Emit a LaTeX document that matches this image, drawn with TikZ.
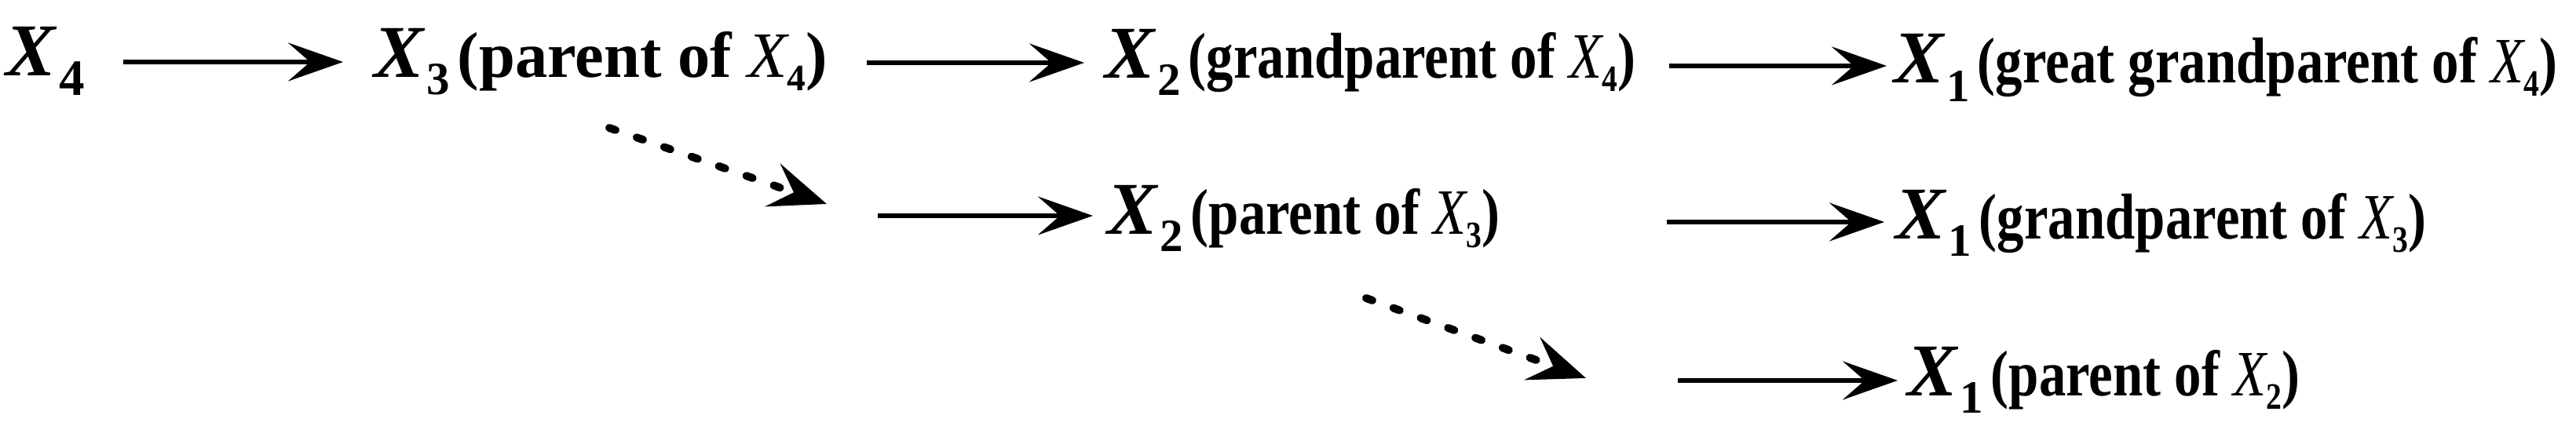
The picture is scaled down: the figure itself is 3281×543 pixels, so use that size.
\documentclass[tikz,border=0pt]{standalone}
\usepackage{fontspec}
\usepackage{graphicx}
\setmainfont{Liberation Serif}
\usetikzlibrary{arrows.meta,calc}
\newcommand\mainX[3][11.8]{{\fontsize{19}{19}\selectfont\bfseries\itshape X}\kern0.8pt\raisebox{-#3}{\fontsize{#1}{#1}\selectfont\bfseries #2}}
\newcommand\labX[1]{{\mdseries\itshape X}\raisebox{-3.4pt}{\fontsize{9.5}{9.5}\selectfont\bfseries #1}}
\newcommand\labtext[1]{{\fontsize{16.5}{16.5}\selectfont\bfseries #1}}
\newcommand\cond[1]{\scalebox{0.835}[1]{#1}}
\tikzset{
  lbl/.style={anchor=base west, inner sep=0pt, outer sep=0pt},
  arr/.style={line width=1.2pt, -{Stealth[length=14pt,width=9.8pt,inset=5.6pt]}},
  darr/.style={line width=2pt, line cap=round, dash pattern=on 1.7pt off 5.7pt,
    -{Stealth[length=14.5pt,width=11.5pt,inset=5.6pt]}}
}
\begin{document}
\begin{tikzpicture}[x=0.2pt,y=-0.2pt]
\fill[white] (0,0) rectangle (3281,543);
\useasboundingbox (0,0) rectangle (3281,543);
% row 1
\node[lbl] (x4)  at (8,97)     {\mainX[13]{4}{5pt}};
\node[lbl] (x3a) at (476,99)   {\mainX{3}{4.4pt}\kern2pt\labtext{(parent of \labX{4})}};
\node[lbl] (x2a) at (1407,100) {\mainX{2}{4.4pt}\kern2pt\cond{\labtext{(grandparent of \labX{4})}}};
\node[lbl] (x1a) at (2412,106) {\mainX{1}{4.8pt}\kern2pt\cond{\labtext{(great grandparent of \labX{4})}}};
% row 2
\node[lbl] (x2b) at (1410,299) {\mainX{2}{4.4pt}\kern2pt\cond{\labtext{(parent of \labX{3})}}};
\node[lbl] (x1b) at (2414,305) {\mainX{1}{4.4pt}\kern2pt\cond{\labtext{(grandparent of \labX{3})}}};
% row 3
\node[lbl] (x1c) at (2429,505) {\mainX{1}{4.4pt}\kern2pt\cond{\labtext{(parent of \labX{2})}}};
% free ends
\coordinate (b1s) at (1118,275);
\coordinate (c1s) at (2137,485);
\coordinate (d1e) at (1053,260);
\coordinate (d2e) at (2020,482);
% solid arrows
\draw[arr] ($(x4.base west)+(149,-18)$) -- ($(x3a.base west)+(-39,-20)$);
\draw[arr] ($(x3a.base west)+(628,-19)$) -- ($(x2a.base west)+(-26,-20)$);
\draw[arr] ($(x2a.base west)+(719,-16)$) -- ($(x1a.base west)+(-9,-22)$);
\draw[arr] (b1s) -- ($(x2b.base west)+(-18,-24)$);
\draw[arr] ($(x2b.base west)+(713,-16)$) -- ($(x1b.base west)+(-14,-22)$);
\draw[arr] (c1s) -- ($(x1c.base west)+(-12,-20)$);
% dotted arrows
\draw[darr] ($(x3a.base west)+(300,64)$) -- (d1e);
\draw[darr] ($(x2b.base west)+(330,81)$) -- (d2e);
\end{tikzpicture}
\end{document}
